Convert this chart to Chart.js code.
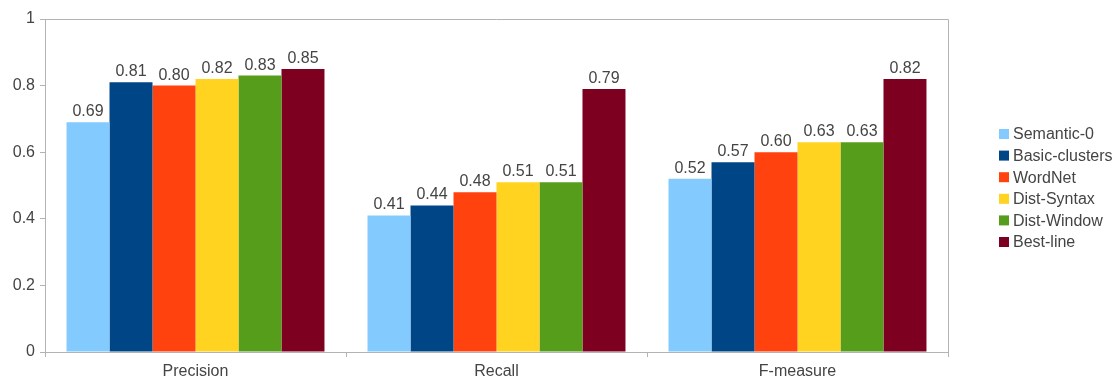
<!DOCTYPE html>
<html>
<head>
<meta charset="utf-8">
<script src="https://cdn.jsdelivr.net/npm/chart.js@4/dist/chart.umd.min.js"></script>
<style>
  body { margin: 0; background: #fff; }
  #wrap { width: 1115px; height: 377px; }
</style>
</head>
<body>
<div id="wrap"><canvas id="scorechart" width="1115" height="377"></canvas></div>
<script>
var categories = ["Precision", "Recall", "F-measure"];
var seriesNames = ["Semantic-0", "Basic-clusters", "WordNet", "Dist-Syntax", "Dist-Window", "Best-line"];
var semantic0 = [0.69, 0.41, 0.52];
var basicClusters = [0.81, 0.44, 0.57];
var wordNet = [0.80, 0.48, 0.60];
var distSyntax = [0.82, 0.51, 0.63];
var distWindow = [0.83, 0.51, 0.63];
var bestLine = [0.85, 0.79, 0.82];
var colors = ["#83caff", "#004586", "#ff420e", "#ffd320", "#579d1c", "#7e0021"];

var FONT = "'Liberation Sans', Arial, sans-serif";
var axisColor = "#b3b3b3";
var textColor = "#444444";

var values = [semantic0, basicClusters, wordNet, distSyntax, distWindow, bestLine];
var datasets = seriesNames.map(function (name, i) {
    return {
        label: name,
        data: values[i],
        backgroundColor: colors[i],
        borderWidth: 0,
        categoryPercentage: 0.857,
        barPercentage: 1.0
    };
});

// value labels over bars, frame and legend on the right
var extras = {
    id: "extras",
    afterDatasetsDraw: function (chart) {
        var ctx = chart.ctx;
        ctx.save();
        ctx.font = "16px " + FONT;
        ctx.fillStyle = textColor;
        ctx.textAlign = "center";
        ctx.textBaseline = "alphabetic";
        chart.data.datasets.forEach(function (ds, i) {
            chart.getDatasetMeta(i).data.forEach(function (bar, j) {
                ctx.fillText(ds.data[j].toFixed(2), bar.x, bar.y - 6);
            });
        });
        var a = chart.chartArea;
        ctx.strokeStyle = axisColor;
        ctx.lineWidth = 1;
        ctx.beginPath();
        ctx.moveTo(a.left, a.top + 0.5);
        ctx.lineTo(a.right + 0.5, a.top + 0.5);
        ctx.lineTo(a.right + 0.5, a.bottom);
        ctx.stroke();

        // legend
        ctx.textAlign = "left";
        ctx.textBaseline = "middle";
        var n = chart.data.datasets.length;
        var step = 21.6;
        var y0 = 188 - step * (n - 1) / 2;
        chart.data.datasets.forEach(function (ds, i) {
            var y = y0 + i * step;
            ctx.fillStyle = ds.backgroundColor;
            ctx.fillRect(999, y - 5, 10, 10);
            ctx.fillStyle = textColor;
            ctx.fillText(ds.label, 1013, y + 1);
        });
        ctx.restore();
    }
};

var chart = new Chart(document.getElementById("scorechart"), {
    type: "bar",
    data: { labels: categories, datasets: datasets },
    options: {
        responsive: false,
        animation: false,
        layout: { padding: { left: 0, top: 19, right: 167, bottom: 0 } },
        plugins: {
            legend: { display: false },
            tooltip: { enabled: false }
        },
        scales: {
            x: {
                grid: { display: true, drawOnChartArea: false, offset: true, color: axisColor, tickLength: 5 },
                border: { display: true, color: axisColor },
                ticks: { font: { family: FONT, size: 16 }, color: textColor, padding: 5 },
                afterFit: function (scale) { scale.height = 25; }
            },
            y: {
                min: 0,
                max: 1,
                ticks: {
                    stepSize: 0.2,
                    font: { family: FONT, size: 16 },
                    color: textColor,
                    padding: 5,
                    callback: function (v) { return String(Math.round(v * 10) / 10); }
                },
                grid: { display: true, drawOnChartArea: false, color: axisColor, tickLength: 5 },
                border: { display: true, color: axisColor },
                afterFit: function (scale) { scale.width = 45; }
            }
        }
    },
    plugins: [extras]
});
</script>
</body>
</html>
